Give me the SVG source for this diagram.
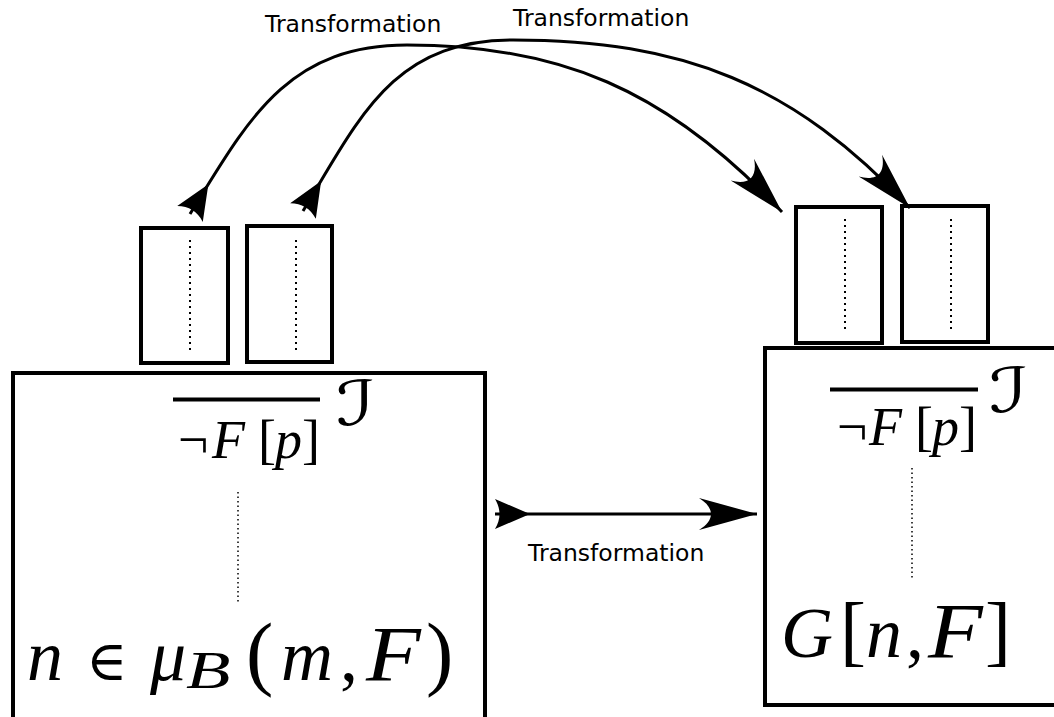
<svg xmlns="http://www.w3.org/2000/svg" width="1054" height="717" viewBox="0 0 1054 717">
<style>
.box{fill:#fff;stroke:#000;stroke-width:4}
.dots{stroke:#000;stroke-width:2;stroke-dasharray:2,4;fill:none}
.dots2{stroke:#000;stroke-width:1.5;stroke-dasharray:1.5,3;fill:none}
.bar{stroke:#000;stroke-width:4}
.conn{fill:none;stroke:#000;stroke-width:3}
.lbl{font-family:"DejaVu Sans",sans-serif;font-size:23.5px;fill:#000}
.m{font-family:"Liberation Serif","DejaVu Serif",serif;fill:#000}
.i{font-style:italic}
.sym{font-family:"DejaVu Serif",serif}
.cal{font-family:"DejaVu Sans","DejaVu Serif",sans-serif}
</style>
<defs>
<marker id="endHead" markerUnits="userSpaceOnUse" orient="auto" overflow="visible" markerWidth="1" markerHeight="1" refX="0" refY="0">
<path d="M0,0 L-58,-16 C-42,-6 -42,6 -58,16 Z" fill="#000"/>
</marker>
<marker id="startHead" markerUnits="userSpaceOnUse" orient="auto" overflow="visible" markerWidth="1" markerHeight="1" refX="0" refY="0">
<path d="M35,0 L0,-15 C6,-5 6,5 0,15 Z" fill="#000"/>
</marker>
</defs>

<g id="left-box">
<rect class="box" x="13" y="373" width="472" height="370"/>
<line class="bar" x1="173" y1="399.5" x2="320" y2="399.5"/>
<text class="m" y="458" font-size="54"><tspan x="178">¬</tspan><tspan x="212" class="i">F</tspan><tspan x="258">[</tspan><tspan x="275" class="i">p</tspan><tspan x="302">]</tspan></text>
<text class="cal" transform="translate(336,425) scale(1.35,1)" x="0" y="0" font-size="62">ℐ</text>
<line class="dots2" x1="238" y1="492" x2="238" y2="604"/>
<text class="m" y="680" font-size="72"><tspan x="27" class="i">n</tspan><tspan x="86" class="sym" font-size="56">∈</tspan><tspan x="150" class="i">μ</tspan></text>
<text class="m i" transform="translate(186,688) scale(1.4,1)" x="0" y="0" font-size="52">B</text>
<text class="m" y="680" font-size="72"><tspan x="246" font-size="82">(</tspan><tspan x="281" class="i">m</tspan><tspan x="340">,</tspan></text>
<text class="m i" transform="translate(366,680) scale(1.15,1)" x="0" y="0" font-size="78">F</text>
<text class="m" x="426" y="680" font-size="82">)</text>
</g>

<g id="left-slot-1">
<rect class="box" x="141" y="228" width="87" height="135"/>
<line class="dots" x1="190" y1="240" x2="190" y2="350"/>
</g>
<g id="left-slot-2">
<rect class="box" x="247" y="226" width="85" height="136"/>
<line class="dots" x1="296" y1="240" x2="296" y2="350"/>
</g>

<g id="right-box">
<rect class="box" x="765" y="348" width="300" height="357"/>
<line class="bar" x1="830" y1="389.5" x2="978" y2="389.5"/>
<text class="m" y="445" font-size="54"><tspan x="837">¬</tspan><tspan x="869" class="i">F</tspan><tspan x="915">[</tspan><tspan x="932" class="i">p</tspan><tspan x="959">]</tspan></text>
<text class="cal" transform="translate(989,412) scale(1.35,1)" x="0" y="0" font-size="62">ℐ</text>
<line class="dots2" x1="912" y1="468" x2="912" y2="580"/>
<text class="m" y="657" font-size="72"><tspan x="781" class="i">G</tspan><tspan x="840" font-size="78">[</tspan><tspan x="866" class="i">n</tspan><tspan x="906">,</tspan></text>
<text class="m i" transform="translate(928,657) scale(1.15,1)" x="0" y="0" font-size="78">F</text>
<text class="m" x="985" y="657" font-size="78">]</text>
</g>

<g id="right-slot-1">
<rect class="box" x="796" y="207" width="86" height="136"/>
<line class="dots" x1="845" y1="219" x2="845" y2="330"/>
</g>
<g id="right-slot-2">
<rect class="box" x="902" y="206" width="86" height="136"/>
<line class="dots" x1="951" y1="219" x2="951" y2="330"/>
</g>

<g id="connectors">
<path class="conn" d="M495,514 L757,514" marker-start="url(#startHead)" marker-end="url(#endHead)"/>
<path class="conn" d="M190,214 C248,120 287,45 407,45 C557,45 666,88 782,212" marker-start="url(#startHead)" marker-end="url(#endHead)"/>
<path class="conn" d="M303,211 C360,117 393,40 513,40 C683,40 794,84 910,208" marker-start="url(#startHead)" marker-end="url(#endHead)"/>
<text class="lbl" x="265" y="32">Transformation</text>
<text class="lbl" x="513" y="26">Transformation</text>
<text class="lbl" x="528" y="561">Transformation</text>
</g>
</svg>
